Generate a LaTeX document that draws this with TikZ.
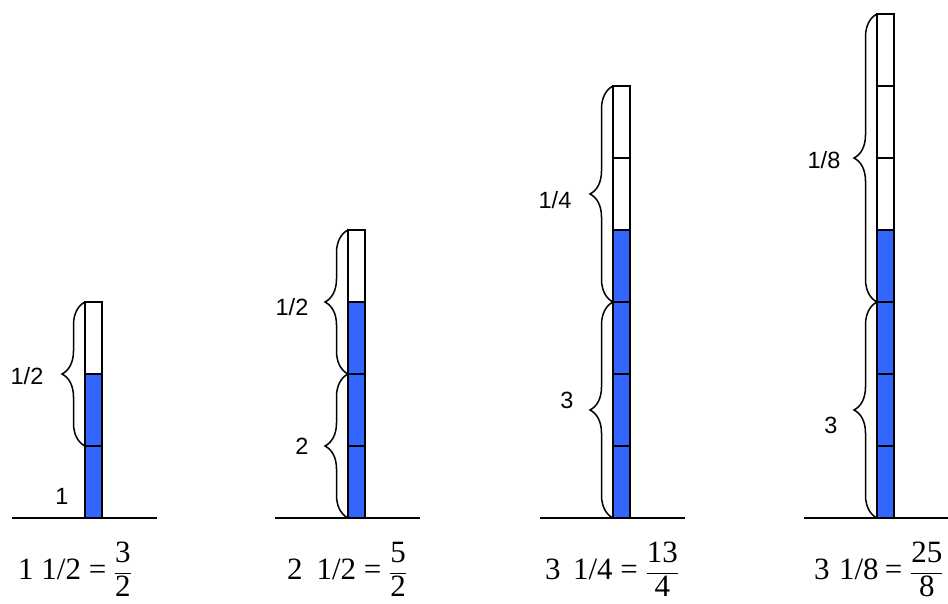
\documentclass[tikz,border=0pt]{standalone}
\usepackage{fontspec}
\setmainfont{Liberation Serif}
\newfontfamily\labfont{Liberation Sans}
\usetikzlibrary{decorations.pathreplacing}
\definecolor{barblue}{RGB}{51,102,255}
\newcommand{\numr}[1]{\hbox{\rule[-0.2em]{0pt}{0.5em}#1}}
\newcommand{\denr}[1]{\hbox{\rule{0pt}{0.72em}#1}}
\begin{document}
\begin{tikzpicture}[x=1pt,y=-1pt,
  cell/.style={draw=black,line width=1.7pt},
  bluecell/.style={cell,fill=barblue},
  whitecell/.style={cell,fill=white},
  groundline/.style={line width=1.3pt},
  bracestyle/.style={decorate,decoration={brace,amplitude=23pt},line width=1.5pt},
  lab/.style={font=\labfont\fontsize{23.5}{25}\selectfont,inner sep=0pt},
  eq/.style={font=\fontsize{31}{34}\selectfont,inner sep=0pt,anchor=base west}]
\useasboundingbox (0,0) rectangle (948,604);
% panels: left x, white cells, blue cells
\foreach \X/\w/\b [count=\i] in {85/1/2, 348/1/3, 613/2/4, 877/3/4}{
  \draw[groundline] (\X-73,518) coordinate (g\i a) -- (\X+72,518) coordinate (g\i b);
  \pgfmathtruncatemacro{\n}{\w+\b}
  \foreach \k in {1,...,\n}{
    \pgfmathsetmacro{\yb}{518-72*(\k-1)}
    \pgfmathsetmacro{\yt}{518-72*\k}
    \ifnum\k>\b
      \draw[whitecell] (\X,\yt) rectangle (\X+17,\yb);
    \else
      \draw[bluecell] (\X,\yt) rectangle (\X+17,\yb);
    \fi
  }
}
% braces
\coordinate (a1) at (85,446); \coordinate (a2) at (85,302);
\draw[bracestyle] (a1) -- (a2);
\coordinate (b1) at (348,518); \coordinate (b2) at (348,374); \coordinate (b3) at (348,230);
\draw[bracestyle] (b1) -- (b2);
\draw[bracestyle] (b2) -- (b3);
\coordinate (c1) at (613,518); \coordinate (c2) at (613,302); \coordinate (c3) at (613,86);
\draw[bracestyle] (c1) -- (c2);
\draw[bracestyle] (c2) -- (c3);
\coordinate (d1) at (877,518); \coordinate (d2) at (877,302); \coordinate (d3) at (877,14);
\draw[bracestyle] (d1) -- (d2);
\draw[bracestyle] (d2) -- (d3);
% labels
\node[lab] (l1) at (27,376) {1/2};
\node[lab] (l2) at (62,496) {1};
\node[lab] (l3) at (292,307) {1/2};
\node[lab] (l4) at (302,446) {2};
\node[lab] (l5) at (555,200) {1/4};
\node[lab] (l6) at (567,400) {3};
\node[lab] (l7) at (824,160) {1/8};
\node[lab] (l8) at (831,425) {3};
% equations
\node[eq] (e1) at (18,579) {1 1/2 = $\displaystyle\frac{\numr{3}}{\denr{2}}$};
\node[eq] (e2) at (287,579) {2\hspace{0.45em}1/2 = $\displaystyle\frac{\numr{5}}{\denr{2}}$};
\node[eq] (e3) at (545,579) {3\hspace{0.4em}1/4 = $\displaystyle\frac{\numr{13}}{\denr{4}}$};
\node[eq] (e4) at (814,579) {3\hspace{0.3em}1/8\hspace{-0.05em} = $\displaystyle\frac{\numr{25}}{\denr{8}}$};
\end{tikzpicture}
\end{document}
